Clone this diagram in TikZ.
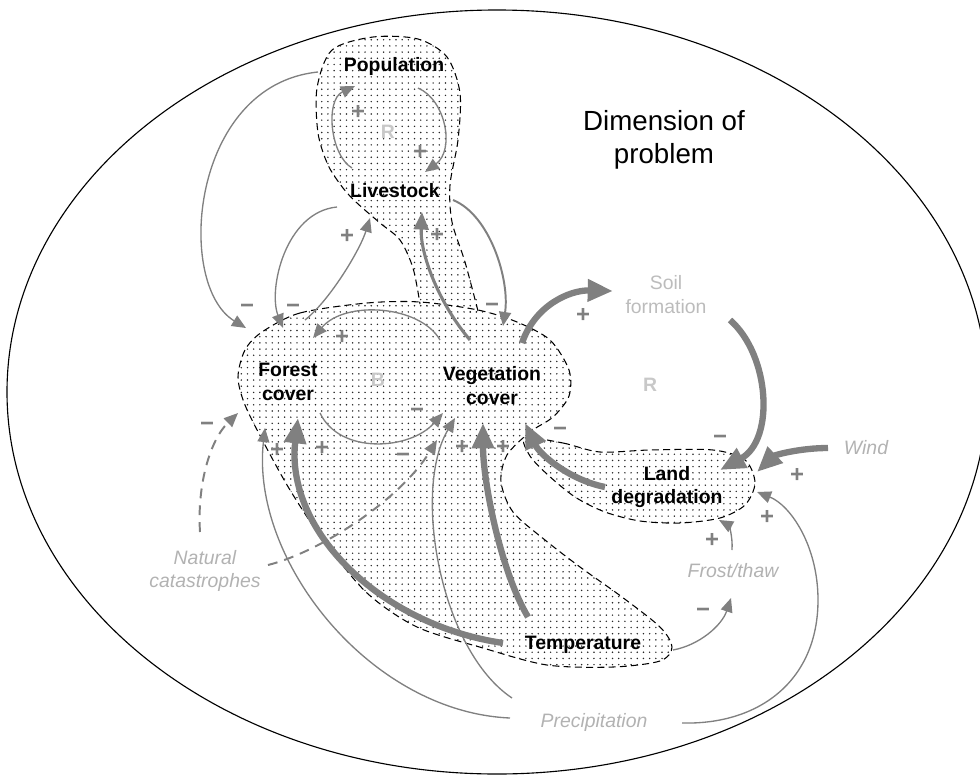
\documentclass[tikz,border=0pt]{standalone}
\usepackage{fontspec}
\setmainfont{Liberation Sans}
\usetikzlibrary{arrows.meta,patterns.meta}

\definecolor{linkgray}{RGB}{128,128,128}
\definecolor{faintgray}{RGB}{178,178,178}
\definecolor{soilgray}{RGB}{188,188,188}
\definecolor{taggray}{RGB}{200,200,200}

\begin{document}
\begin{tikzpicture}[
        x=0.025cm,
        y=-0.025cm,
        dotfill/.style={pattern={Dots[distance=4.4pt,radius=0.58pt]}, pattern color=black!85},
        rim/.style={draw=black, line width=0.75pt, dash pattern=on 5pt off 3pt},
        blob/.style={dotfill, rim},
        varname/.style={font=\bfseries\fontsize{13.8}{17}\selectfont, align=center, inner sep=1pt},
        extname/.style={font=\itshape\fontsize{13.8}{17}\selectfont, text=faintgray, align=center, inner sep=1pt},
        looptag/.style={font=\bfseries\fontsize{13.8}{17}\selectfont, text=taggray},
        sign/.style={font=\bfseries\fontsize{17}{17}\selectfont, text=linkgray, inner sep=0pt},
        link/.style={draw=linkgray, line width=0.95pt, -{Triangle[length=10pt,width=8.5pt]}},
        midlink/.style={draw=linkgray, line width=2.2pt, -{Triangle[length=12.5pt,width=10.5pt]}},
        heavy/.style={draw=linkgray, line width=4.5pt, -{Triangle[length=18pt,width=15pt]}},
        hazard/.style={link, line width=1.4pt, dash pattern=on 7pt off 5pt}
    ]
        \useasboundingbox (0,0) rectangle (980,776);
        \draw[line width=0.8pt] (497,392) ellipse [x radius=490, y radius=382];

        % shaded problem area
        \fill[dotfill] plot[smooth cycle] coordinates {(373,37) (418,39) (447,57) (460,93) (458,140) (450,185) (452,222) (465,262) (478,311) (449,306) (420,304) (413,268) (400,240) (380,223) (357,203) (343,188) (328,165) (318,133) (317,88) (332,50)};
        \draw[rim] plot[smooth] coordinates {(478,311) (465,262) (452,222) (450,185) (458,140) (460,93) (447,57) (418,39) (373,37) (332,50) (317,88) (318,133) (328,165) (343,188) (357,203) (380,223) (400,240) (413,268) (420,304)};
        \draw[blob] plot[smooth cycle] coordinates {(262,332) (300,313) (367,303) (420,302) (478,310) (517,322) (550,340) (569,370) (569,396) (553,417) (530,432) (507,455) (501,482) (513,512) (545,540) (580,567) (622,597) (660,627) (672,647) (660,661) (613,667) (547,665) (483,648) (417,627) (367,593) (323,540) (290,490) (265,445) (245,405) (238,377) (245,350)};
        \draw[blob] plot[smooth cycle] coordinates {(525,438) (563,443) (600,452) (650,450) (713,450) (745,460) (755,483) (745,505) (720,518) (680,523) (640,521) (605,512) (575,497) (548,475) (530,456)};

        \node[varname] (pop) at (394,66) {Population};
        \node[varname] (liv) at (395,191) {Livestock};
        \node[varname] (forest) at (288,382) {Forest\\cover};
        \node[varname] (veg) at (492,386) {Vegetation\\cover};
        \node[varname] (land) at (667,487) {Land\\degradation};
        \node[varname] (temp) at (583,645) {Temperature};
        \node[font=\fontsize{13.8}{17}\selectfont, text=soilgray, align=center] (soil) at (666,295) {Soil\\formation};
        \node[extname] (wind) at (866,448) {Wind};
        \node[extname] (frost) at (733,571) {Frost/thaw};
        \node[extname] (precip) at (594,722) {Precipitation};
        \node[extname] (natcat) at (205,571) {Natural\\catastrophes};
        \node[font=\fontsize{19.7}{23.4}\selectfont, align=center] (dim) at (664,140) {Dimension of\\problem};
        \node[looptag] (rtop) at (388,132) {R};
        \node[looptag] (bmid) at (378,380) {B};
        \node[looptag] (rright) at (650,385) {R};

        \foreach \n/\x/\y in {popA/418/88, popB/355/86, popC/318/72,
                livA/425/172, livB/352/168, livC/337/207, livD/370/218, livE/422/212, livF/453/200,
                fcA/246/328, fcB/283/328, fcC/305/320, fcD/313/338, fcE/320/413, fcF/298/418, fcG/265/428, fcH/238/413,
                vcA/470/340, vcB/503/326, vcC/440/340, vcD/443/413, vcE/522/343, vcF/525/423, vcG/483/423, vcH/455/418, vcI/437/440,
                soilA/613/291, soilB/730/320,
                ldA/720/470, ldB/605/487, ldC/757/472, ldD/757/492, ldE/719/520,
                windA/828/448, frA/732/550, frB/731/598,
                tpA/673/650, tpB/503/643, tpC/528/617,
                prA/682/723, prB/510/718, prC/512/698,
                ncA/200/532, ncB/268/565} {
            \coordinate (\n) at (\x,\y);
        }

        \draw[link] (popA) .. controls (446,100) and (455,150) .. (livA);
        \draw[link] (livB) .. controls (330,155) and (325,100) .. (popB);
        \draw[link] (popC) .. controls (190,85) and (175,285) .. (fcA);
        \draw[link] (livC) .. controls (285,212) and (268,290) .. (fcB);
        \draw[link] (fcC) .. controls (330,300) and (360,250) .. (livD);
        \draw[midlink] (vcA) .. controls (440,305) and (420,255) .. (livE);
        \draw[link, line width=1.4pt] (livF) .. controls (490,215) and (510,280) .. (vcB);
        \draw[link] (vcC) .. controls (420,305) and (345,300) .. (fcD);
        \draw[link] (fcE) .. controls (340,455) and (410,450) .. (vcD);

        \draw[heavy] (vcE) .. controls (535,305) and (570,290) .. (soilA);
        \draw[heavy] (soilB) .. controls (770,355) and (775,440) .. (ldA);
        \draw[heavy] (ldB) .. controls (570,480) and (540,455) .. (vcF);
        \draw[heavy] (windA) .. controls (800,448) and (775,455) .. (ldC);
        \draw[link] (prA) .. controls (760,725) and (818,680) .. (818,600) .. controls (818,545) and (790,505) .. (ldD);
        \draw[link] (frA) .. controls (733,535) and (728,525) .. (ldE);
        \draw[link] (tpA) .. controls (700,645) and (722,625) .. (frB);

        \draw[heavy] (tpB) .. controls (380,625) and (285,530) .. (fcF);
        \draw[heavy] (tpC) .. controls (500,570) and (483,480) .. (vcG);
        \draw[link] (prB) .. controls (370,712) and (250,560) .. (fcG);
        \draw[link] (prC) .. controls (440,650) and (412,490) .. (vcH);
        \draw[hazard] (ncA) .. controls (197,485) and (210,440) .. (fcH);
        \draw[hazard] (ncB) .. controls (320,552) and (400,500) .. (vcI);

        \foreach \x/\y/\s [count=\i] in {358/112/+, 420/152/+, 247/309/−, 293/309/−, 347/236/+, 437/235/+,
                492/308/−, 342/337/+, 417/413/−, 583/315/+, 720/440/−, 560/432/−, 797/475/+, 767/517/+,
                712/540/+, 703/613/−, 322/448/+, 503/447/+, 277/450/+, 462/447/+, 207/427/−, 403/458/−} {
            \node[sign] (sg\i) at (\x,\y) {\s};
        }
\end{tikzpicture}
\end{document}
